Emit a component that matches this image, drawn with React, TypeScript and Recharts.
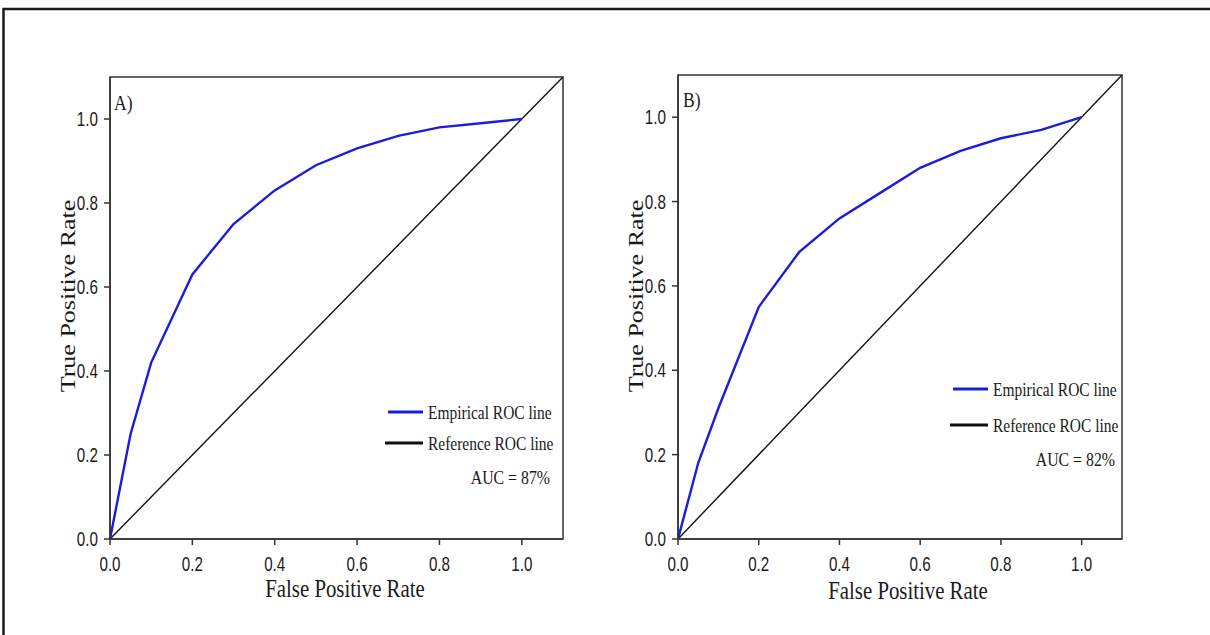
import React from "react";
import { LineChart, Line, XAxis, YAxis, ReferenceArea } from "recharts";

// Panel A – empirical ROC points
const fprA = [0, 0.05, 0.1, 0.2, 0.3, 0.4, 0.5, 0.6, 0.7, 0.8, 0.9, 1.0];
const tprA = [0, 0.25, 0.42, 0.63, 0.75, 0.83, 0.89, 0.93, 0.96, 0.98, 0.99, 1.0];

// Panel B – empirical ROC points
const fprB = [0, 0.05, 0.1, 0.2, 0.3, 0.4, 0.5, 0.6, 0.7, 0.8, 0.9, 1.0];
const tprB = [0, 0.18, 0.31, 0.55, 0.68, 0.76, 0.82, 0.88, 0.92, 0.95, 0.97, 1.0];

// diagonal reference line
const refFpr = [0, 1.1];
const refTpr = [0, 1.1];

const ticks = [0, 0.2, 0.4, 0.6, 0.8, 1.0];

const aucA = "AUC = 87%";
const aucB = "AUC = 82%";

const BLUE = "#1c1cdc";
const SANS = "'Liberation Sans', Arial, sans-serif";
const SERIF = "'Liberation Serif', 'Times New Roman', serif";

const toRows = (xs: number[], ys: number[]) =>
  xs.map((x, i) => ({ fpr: x, tpr: ys[i] }));

const XTick = (props: any) => {
  const { x, y, payload } = props;
  return (
    <text
      transform={`translate(${x},${y + 20}) scale(0.76,1)`}
      textAnchor="middle"
      fontFamily={SANS}
      fontSize={20}
      fill="#1a1a1a"
    >
      {Number(payload.value).toFixed(1)}
    </text>
  );
};

const YTick = (props: any) => {
  const { x, y, payload } = props;
  return (
    <text
      transform={`translate(${x},${y + 7}) scale(0.76,1)`}
      textAnchor="end"
      fontFamily={SANS}
      fontSize={20}
      fill="#1a1a1a"
    >
      {Number(payload.value).toFixed(1)}
    </text>
  );
};

type PanelProps = {
  left: number;
  width: number;
  margin: { top: number; right: number; bottom: number; left: number };
  emp: { fpr: number; tpr: number }[];
};

const Panel = ({ left, width, margin, emp }: PanelProps) => (
  <div style={{ position: "absolute", left, top: 0 }}>
    <LineChart width={width} height={635} margin={margin}>
      <XAxis
        type="number"
        dataKey="fpr"
        domain={[0, 1.1]}
        ticks={ticks}
        allowDataOverflow
        height={40}
        tickSize={6}
        tickMargin={6}
        tick={<XTick />}
        stroke="#333"
        strokeWidth={1.5}
      />
      <YAxis
        type="number"
        dataKey="tpr"
        domain={[0, 1.1]}
        ticks={ticks}
        allowDataOverflow
        width={60}
        tickSize={6}
        tickMargin={6}
        tick={<YTick />}
        stroke="#333"
        strokeWidth={1.5}
      />
      <ReferenceArea
        x1={0}
        x2={1.1}
        y1={0}
        y2={1.1}
        fill="none"
        stroke="#333"
        strokeWidth={1.5}
        fillOpacity={0}
      />
      <Line
        data={toRows(refFpr, refTpr)}
        dataKey="tpr"
        stroke="#111"
        strokeWidth={1.4}
        dot={false}
        isAnimationActive={false}
      />
      <Line
        data={emp}
        dataKey="tpr"
        stroke={BLUE}
        strokeWidth={2.4}
        dot={false}
        isAnimationActive={false}
      />
    </LineChart>
  </div>
);

const Legend = ({ x, y, auc, dy }: { x: number; y: number; auc: string; dy: number }) => (
  <g transform={`translate(${x},${y})`} fontFamily={SERIF} fill="#1a1a1a">
    <line x1={8} y1={17} x2={43} y2={17} stroke={BLUE} strokeWidth={3} />
    <text transform="translate(48,23.5) scale(0.86,1)" fontSize={18}>
      Empirical ROC line
    </text>
    <line x1={5} y1={17 + dy} x2={43} y2={17 + dy} stroke="#111" strokeWidth={3} />
    <text transform={`translate(48,${23.5 + dy}) scale(0.86,1)`} fontSize={18}>
      Reference ROC line
    </text>
    <text
      transform={`translate(170,${58 + dy}) scale(0.88,1)`}
      fontSize={18}
      textAnchor="end"
    >
      {auc}
    </text>
  </g>
);

export default function App() {
  return (
    <div
      style={{
        position: "absolute",
        left: 0,
        top: 0,
        width: 1210,
        height: 635,
        overflow: "hidden",
        background: "#fff",
      }}
    >
      <Panel
        left={0}
        width={600}
        margin={{ top: 77, right: 37, bottom: 56, left: 50 }}
        emp={toRows(fprA, tprA)}
      />
      <Panel
        left={600}
        width={610}
        margin={{ top: 75, right: 88, bottom: 56, left: 18 }}
        emp={toRows(fprB, tprB)}
      />
      <svg
        width={1210}
        height={635}
        style={{ position: "absolute", left: 0, top: 0, pointerEvents: "none" }}
      >
        <path d="M3.5,640 L3.5,9 L1215,9" fill="none" stroke="#1a1a1a" strokeWidth={2.5} />
        <g fontFamily={SERIF} fill="#1a1a1a">
          <text transform="translate(114,110) scale(0.8,1)" fontSize={22}>
            A)
          </text>
          <text transform="translate(683,107) scale(0.8,1)" fontSize={22}>
            B)
          </text>
          <text transform="translate(345,597) scale(0.8,1)" fontSize={26} textAnchor="middle">
            False Positive Rate
          </text>
          <text transform="translate(908,599) scale(0.8,1)" fontSize={26} textAnchor="middle">
            False Positive Rate
          </text>
          <text
            transform="translate(75,296) scale(0.8,1) rotate(-90)"
            fontSize={26}
            textAnchor="middle"
          >
            True Positive Rate
          </text>
          <text
            transform="translate(643,296) scale(0.8,1) rotate(-90)"
            fontSize={26}
            textAnchor="middle"
          >
            True Positive Rate
          </text>
        </g>
        <Legend x={380} y={395} auc={aucA} dy={31} />
        <Legend x={945} y={372} auc={aucB} dy={36} />
      </svg>
    </div>
  );
}
